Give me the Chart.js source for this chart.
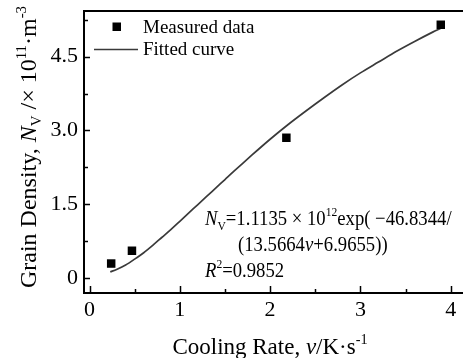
<!DOCTYPE html>
<html><head><meta charset="utf-8">
<script src="https://cdn.jsdelivr.net/npm/chart.js@4/dist/chart.umd.min.js"></script>
<style>html,body{margin:0;padding:0;background:#fff;overflow:hidden}#wrap{width:463px;height:358px;position:relative}</style>
</head><body><div id="wrap"><canvas id="c"></canvas></div>
<script>
// ---- data ----
const measuredRate = [0.24, 0.47, 2.18, 3.89];
const measuredDensity = [0.29, 0.55, 2.85, 5.15];
const fittedRate = [0.23, 0.3, 0.4, 0.5, 0.6, 0.7, 0.8, 0.9, 1.0, 1.1, 1.2, 1.3, 1.4, 1.5, 1.6, 1.8, 2.0, 2.2, 2.4, 2.6, 2.8, 3.0, 3.2, 3.4, 3.6, 3.8, 3.89];
const fittedDensity = [0.12, 0.17, 0.26, 0.38, 0.51, 0.66, 0.82, 0.98, 1.15, 1.32, 1.49, 1.66, 1.83, 2.0, 2.17, 2.5, 2.82, 3.12, 3.4, 3.67, 3.93, 4.17, 4.39, 4.61, 4.81, 5.0, 5.08];
const xTickValues = [0, 1, 2, 3, 4];
const xTickLabels = ['0', '1', '2', '3', '4'];
const yTickValues = [0, 1.5, 3.0, 4.5];
const yTickLabels = ['0', '1.5', '3.0', '4.5'];
const xMinorValues = [0.5, 1.5, 2.5, 3.5];
const yMinorValues = [0.75, 2.25, 3.75, 5.25];
const seriesNames = ['Measured data', 'Fitted curve'];

const FONT = '"Liberation Serif", "Times New Roman", serif';

function runsWidth(ctx, runs, size) {
  let w = 0;
  for (const r of runs) {
    const fs = r.s ? size * 0.62 : size;
    ctx.font = (r.i ? 'italic ' : '') + fs + 'px ' + FONT;
    w += ctx.measureText(r.t).width;
  }
  return w;
}
function drawRuns(ctx, x, y, runs, size, align, sx) {
  sx = sx || 1;
  const w = runsWidth(ctx, runs, size);
  let cx = align === 'center' ? -w / 2 : (align === 'right' ? -w : 0);
  ctx.save();
  ctx.translate(x, y);
  ctx.scale(sx, 1);
  ctx.textBaseline = 'alphabetic';
  ctx.textAlign = 'left';
  for (const r of runs) {
    const fs = r.s ? size * 0.62 : size;
    ctx.font = (r.i ? 'italic ' : '') + fs + 'px ' + FONT;
    let dy = 0;
    if (r.s === 'sub') dy = size * 0.22;
    if (r.s === 'sup') dy = -size * 0.42;
    ctx.fillText(r.t, cx, dy);
    cx += ctx.measureText(r.t).width;
  }
  ctx.restore();
}

function zeroPad(s) { s.paddingLeft = 0; s.paddingRight = 0; s.paddingTop = 0; s.paddingBottom = 0; }

const decor = {
  id: 'decor',
  afterDraw(chart) {
    const ctx = chart.ctx;
    const a = chart.chartArea;
    const xs = chart.scales.x, ys = chart.scales.y;
    ctx.save();
    ctx.strokeStyle = '#000';
    ctx.fillStyle = '#000';
    // frame: left, bottom, top
    ctx.lineWidth = 2;
    ctx.beginPath();
    ctx.moveTo(a.left, a.top); ctx.lineTo(a.left, a.bottom + 1);
    ctx.moveTo(a.left - 1, a.bottom); ctx.lineTo(a.right, a.bottom);
    ctx.moveTo(a.left - 1, a.top); ctx.lineTo(a.right, a.top);
    ctx.stroke();
    // inward ticks
    ctx.lineWidth = 1.5;
    ctx.beginPath();
    for (const v of xTickValues) { const p = Math.round(xs.getPixelForValue(v)) + 0.5; ctx.moveTo(p, a.bottom); ctx.lineTo(p, a.bottom - 7); }
    for (const v of xMinorValues) { const p = Math.round(xs.getPixelForValue(v)) + 0.5; ctx.moveTo(p, a.bottom); ctx.lineTo(p, a.bottom - 4); }
    for (const v of yTickValues) { const p = Math.round(ys.getPixelForValue(v)) + 0.5; ctx.moveTo(a.left, p); ctx.lineTo(a.left + 6, p); }
    for (const v of yMinorValues) { const p = Math.round(ys.getPixelForValue(v)) + 0.5; ctx.moveTo(a.left, p); ctx.lineTo(a.left + 4, p); }
    ctx.stroke();

    // legend
    const ds = chart.data.datasets;
    ctx.fillRect(112.5, 22.5, 8.5, 8.5);
    ctx.strokeStyle = ds[1].borderColor;
    ctx.lineWidth = 1.5;
    ctx.beginPath(); ctx.moveTo(94, 49.5); ctx.lineTo(138, 49.5); ctx.stroke();
    ctx.fillStyle = '#000';
    ctx.font = '19px ' + FONT;
    ctx.textAlign = 'left'; ctx.textBaseline = 'alphabetic';
    ctx.fillText(ds[0].label, 143, 33);
    ctx.fillText(ds[1].label, 143, 55);

    // equation annotation
    const eq = 21, sq = 0.89;
    drawRuns(ctx, 205, 225, [{t:'N', i:1}, {t:'V', s:'sub'}, {t:'=1.1135 \u00d7 10'}, {t:'12', s:'sup'}, {t:'exp( \u221246.8344/'}], eq, 'left', sq);
    drawRuns(ctx, 238, 251, [{t:'(13.5664'}, {t:'v', i:1}, {t:'+6.9655))'}], eq, 'left', sq);
    drawRuns(ctx, 205, 277, [{t:'R', i:1}, {t:'2', s:'sup'}, {t:'=0.9852'}], eq, 'left', sq);

    // axis titles
    drawRuns(ctx, 270, 354, [{t:'Cooling Rate, '}, {t:'v', i:1}, {t:'/K\u00b7s'}, {t:'-1', s:'sup'}], 23, 'center');
    ctx.translate(36, 147);
    ctx.rotate(-Math.PI / 2);
    drawRuns(ctx, 0, 0, [{t:'Grain Density, '}, {t:'N', i:1}, {t:'V', s:'sub'}, {t:' /\u00d7 10'}, {t:'11', s:'sup'}, {t:'\u00b7m'}, {t:'-3', s:'sup'}], 24, 'center');
    ctx.restore();
  }
};

new Chart(document.getElementById('c'), {
  type: 'scatter',
  data: {
    datasets: [
      {
        label: seriesNames[0],
        data: measuredRate.map((x, i) => ({x, y: measuredDensity[i]})),
        pointStyle: 'rect', pointRadius: 6, pointBorderWidth: 0,
        backgroundColor: '#000', borderColor: '#000', showLine: false, order: 0
      },
      {
        label: seriesNames[1],
        data: fittedRate.map((x, i) => ({x, y: fittedDensity[i]})),
        showLine: true, pointRadius: 0, borderColor: '#3a3a3a', borderWidth: 1.7,
        tension: 0.3, fill: false, order: 1
      }
    ]
  },
  options: {
    responsive: true, maintainAspectRatio: false, animation: false, devicePixelRatio: 1,
    layout: { autoPadding: false, padding: { top: 11, right: 0, left: 0, bottom: 0 } },
    plugins: { legend: { display: false }, tooltip: { enabled: false } },
    scales: {
      x: {
        type: 'linear', min: -0.061, max: 4.136,
        afterFit: s => { s.height = 65; zeroPad(s); },
        afterBuildTicks: s => { s.ticks = xTickValues.map(v => ({value: v})); },
        grid: { display: false, drawTicks: false }, border: { display: false },
        ticks: { padding: 4, color: '#000', font: { family: FONT, size: 22 }, maxRotation: 0, autoSkip: false,
          callback: v => xTickLabels[xTickValues.indexOf(v)] }
      },
      y: {
        type: 'linear', min: -0.31, max: 5.43,
        afterFit: s => { s.width = 84; zeroPad(s); },
        afterBuildTicks: s => { s.ticks = yTickValues.map(v => ({value: v})); },
        grid: { display: false, drawTicks: false }, border: { display: false },
        ticks: { padding: 6, color: '#000', font: { family: FONT, size: 22 }, autoSkip: false,
          callback: v => yTickLabels[yTickValues.indexOf(v)] }
      }
    }
  },
  plugins: [decor]
});
</script></body></html>
